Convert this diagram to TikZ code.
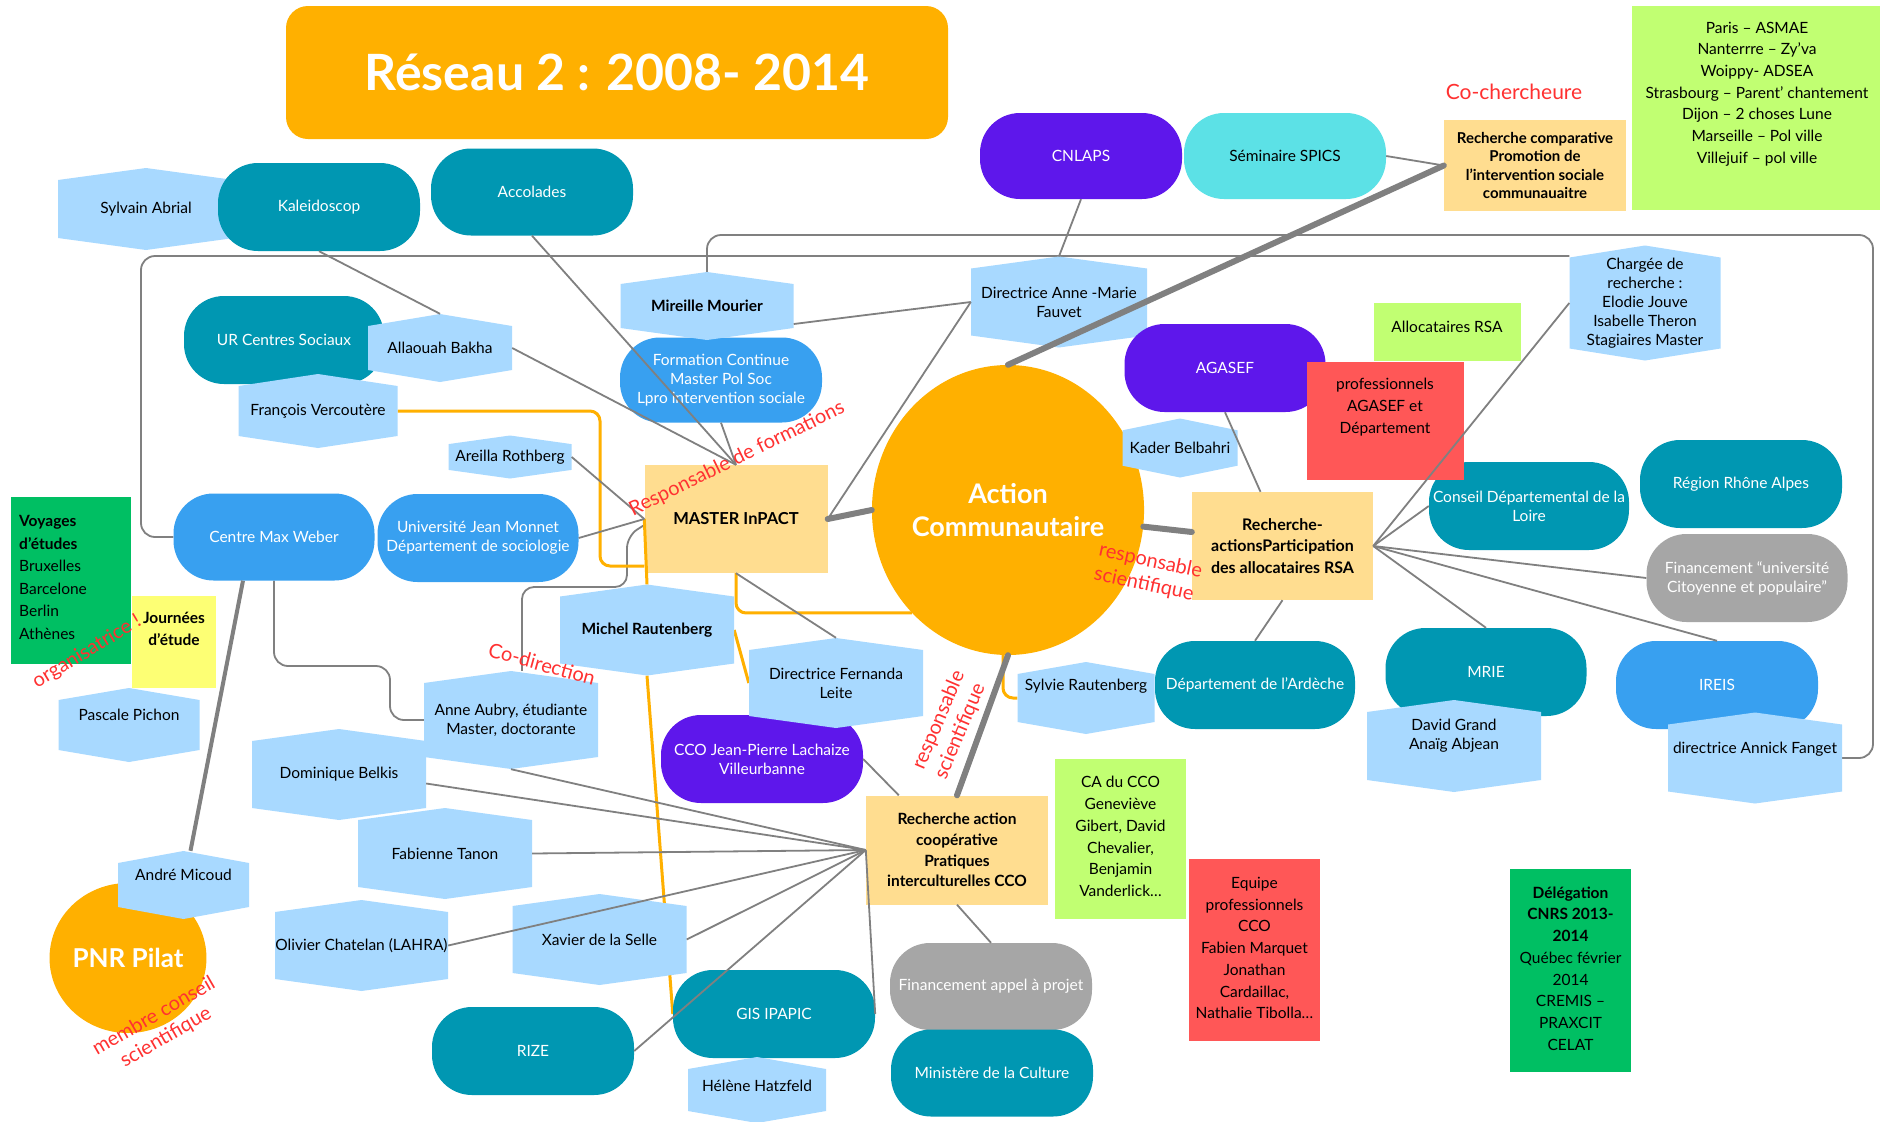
\documentclass[tikz,border=0pt]{standalone}
\usepackage{fontspec}
\setmainfont{Lato}
\usetikzlibrary{backgrounds,calc,shapes.geometric}

\definecolor{orC}{HTML}{FFB000}
\definecolor{boxC}{HTML}{FFDD90}
\definecolor{hexC}{HTML}{A8D9FF}
\definecolor{tealC}{HTML}{0097B2}
\definecolor{blueC}{HTML}{38A0F0}
\definecolor{purC}{HTML}{5E17EB}
\definecolor{cyanC}{HTML}{5CE1E6}
\definecolor{greyC}{HTML}{A6A6A6}
\definecolor{lgC}{HTML}{C1FF72}
\definecolor{redC}{HTML}{FF5757}
\definecolor{grC}{HTML}{00BF63}
\definecolor{yeC}{HTML}{FDFF74}
\definecolor{lineC}{HTML}{808080}
\definecolor{redT}{HTML}{FF3131}

\newcommand{\NF}{\fontsize{15.5}{19}\selectfont}
\newcommand{\GF}{\fontsize{15.5}{21.7}\selectfont}

\newcommand{\HexNode}[7][0]{%
  \pgfmathsetmacro{\hxl}{#3-#5/2}%
  \pgfmathsetmacro{\hxr}{#3+#5/2}%
  \pgfmathsetmacro{\hyt}{#4-#6/2}%
  \pgfmathsetmacro{\hyb}{#4+#6/2}%
  \pgfmathsetmacro{\hpk}{min(12,0.2*#6)}%
  \fill[hexC] ({\hxl},{\hyt+\hpk}) -- ({#3},{\hyt}) -- ({\hxr},{\hyt+\hpk}) -- ({\hxr},{\hyb-\hpk}) -- ({#3},{\hyb}) -- ({\hxl},{\hyb-\hpk}) -- cycle;
  \node[minimum width=#5pt, minimum height=#6pt, inner sep=0pt] (#2) at (#3,#4) {};
  \node[hextext] (#2-t) at ({#3},{#4+#1}) {#7};
}

\begin{document}
\begin{tikzpicture}[x=1pt,y=-1pt,
  stad/.style={fill=#1, rounded corners=40pt, minimum width=202pt, minimum height=87pt, text=white, align=center, inner sep=2pt, font=\NF},
  box/.style={fill=#1, minimum width=10pt, inner sep=0pt, align=center, font=\NF},
  hextext/.style={font=\NF, align=center, text=black, inner sep=1pt},
  txt/.style={font=\NF, align=center, text=black, inner sep=1pt},
  ln/.style={draw=lineC, line width=1.8pt},
  thk/.style={draw=lineC, line width=6pt, line cap=round},
  mid/.style={draw=lineC, line width=4pt},
  orl/.style={draw=orC, line width=3pt, rounded corners=10pt},
  redt/.style={text=redT, font=\fontsize{20}{24}\selectfont, align=center, inner sep=0pt}
]
\useasboundingbox (0,0) rectangle (1880,1122);

% title
\node[fill=orC, rounded corners=22pt, minimum width=662pt, minimum height=133pt, text=white, font=\fontsize{50}{60}\selectfont\bfseries] (title) at (617,72.5) {Réseau 2 : 2008- 2014};

% top right list
\node[box=lgC, minimum width=250pt, minimum height=204pt] (villes) at (1757,108) {};
\node[txt, font=\GF] (villes-t) at (1757,94) {Paris – ASMAE\\Nanterrre – Zy’va\\Woippy- ADSEA\\Strasbourg – Parent’ chantement\\Dijon – 2 choses Lune\\Marseille – Pol ville\\Villejuif – pol ville};

% upper left
\HexNode{sylv}{146}{209}{176}{82}{Sylvain Abrial}
\node[stad=tealC, minimum height=88pt] (kal) at (319,207) {Kaleidoscop};
\node[stad=tealC] (acc) at (532,192) {Accolades};
\node[stad=tealC, minimum width=200pt, minimum height=88pt] (ur) at (284,340) {UR Centres Sociaux};
\HexNode{alla}{440}{348}{144}{68}{Allaouah Bakha}
\HexNode{fra}{318}{411}{159}{74}{François Vercoutère}
\HexNode{are}{510}{457}{123}{43}{Areilla Rothberg}
\node[stad=blueC, minimum height=85pt] (form) at (721,380) {Formation Continue\\Master Pol Soc\\Lpro intervention sociale};
\HexNode{mir}{707}{306}{173}{68}{\bfseries Mireille Mourier}

% upper middle / right
\node[stad=purC, minimum height=86pt] (cnl) at (1081,156) {CNLAPS};
\node[stad=cyanC, minimum height=86pt, text=black] (spi) at (1285,156) {Séminaire SPICS};
\node[box=boxC, minimum width=182pt, minimum height=91pt, font=\fontsize{15}{18.5}\selectfont\bfseries] (rcomp) at (1535,165.5) {Recherche comparative\\Promotion de\\l’intervention sociale\\communauaitre};
\node[text=redT, font=\fontsize{21}{25}\selectfont, inner sep=0pt] (coch) at (1514,92) {Co-chercheure};
\HexNode{dam}{1059}{302}{176}{91}{Directrice Anne -Marie\\Fauvet}
\node[stad=purC, minimum width=201pt, minimum height=88pt] (aga) at (1225,368) {AGASEF};
\node[box=lgC, minimum width=147pt, minimum height=58pt] (alloc) at (1447,332) {};
\node[txt] (alloc-t) at (1447,327) {Allocataires RSA};
\node[ellipse, fill=orC, minimum width=260pt, minimum height=290pt, inner sep=0pt, text=white, align=center, font=\fontsize{27}{33}\selectfont\bfseries] (ac) at (1008,510) {Action\\Communautaire};
\HexNode{kad}{1180}{448}{115}{59}{Kader Belbahri}
\node[stad=tealC, minimum width=200pt, minimum height=88pt] (loi) at (1529,506) {Conseil Départemental de la\\Loire};
\node[box=redC, minimum width=157pt, minimum height=118pt] (prof) at (1385,421) {};
\node[txt, font=\GF] (prof-t) at (1385,407) {professionnels\\AGASEF et\\Département};
\HexNode{cha}{1645}{303}{151}{115}{Chargée de\\recherche :\\Elodie Jouve\\Isabelle Theron\\Stagiaires Master}
\node[stad=tealC, minimum height=88pt] (reg) at (1741,484) {Région Rhône Alpes};
\node[stad=greyC, minimum width=201pt, minimum height=88pt] (finu) at (1747,578) {Financement “université\\Citoyenne et populaire”};
\node[box=boxC, minimum width=181pt, minimum height=108pt, font=\fontsize{16}{21.5}\selectfont\bfseries] (rsa) at (1282.5,546) {Recherche-\\actionsParticipation\\des allocataires RSA};

% middle left
\node[box=boxC, minimum width=183pt, minimum height=108pt, font=\fontsize{16.5}{20}\selectfont\bfseries] (mas) at (736,519) {MASTER InPACT};
\node[stad=blueC, minimum width=201pt, minimum height=88pt] (univ) at (478,538) {Université Jean Monnet\\Département de sociologie};
\node[stad=blueC, minimum width=201pt, minimum height=87pt] (cmw) at (274,537) {Centre Max Weber};
\node[box=grC, minimum width=120pt, minimum height=167pt] (voy) at (71,580.5) {};
\node[txt, align=left, anchor=west, font=\fontsize{15.5}{22.6}\selectfont] (voy-t) at (18,577.5) {\textbf{Voyages}\\\textbf{d’études}\\Bruxelles\\Barcelone\\Berlin\\Athènes};
\node[box=yeC, minimum width=84pt, minimum height=92pt] (jou) at (174,642) {};
\node[txt, font=\fontsize{15.5}{21.5}\selectfont\bfseries] (jou-t) at (174,629) {Journées\\d’étude};
\HexNode[-10]{pas}{129}{725}{141}{74}{Pascale Pichon}

% middle
\HexNode{mic}{647}{630}{174}{91}{\bfseries Michel Rautenberg}
\node[stad=purC, minimum height=88pt] (cco) at (762,759) {CCO Jean-Pierre Lachaize\\Villeurbanne};
\HexNode{fer}{836}{683}{174}{90}{Directrice Fernanda\\Leite}
\HexNode{ane}{511}{720}{174}{98}{Anne Aubry, étudiante\\Master, doctorante}
\HexNode{dom}{339}{774.5}{174}{91}{Dominique Belkis}
\HexNode{fab}{445}{853.5}{174}{91}{Fabienne Tanon}

% middle right
\HexNode[-12]{syl}{1086}{698}{137}{72}{Sylvie Rautenberg}
\node[stad=tealC, minimum width=200pt, minimum height=88pt] (ard) at (1255,685) {Département de l’Ardèche};
\node[stad=tealC, minimum width=201pt, minimum height=88pt] (mrie) at (1486,672) {MRIE};
\HexNode[-10]{dav}{1454}{746}{174}{92}{David Grand\\Anaïg Abjean}
\node[stad=blueC, minimum height=88pt] (ire) at (1717,685) {IREIS};
\HexNode[-9]{ann}{1755}{758}{174}{91}{directrice Annick Fanget}

% lower left
\node[ellipse, fill=orC, minimum width=144pt, minimum height=150pt, inner sep=0pt, text=white, font=\fontsize{26}{30}\selectfont\bfseries] (pnr) at (128,958) {PNR Pilat};
\HexNode[-10]{andr}{183.5}{885}{131}{68}{André Micoud}

% lower middle
\node[box=boxC, minimum width=182pt, minimum height=109pt, font=\fontsize{15.5}{20.8}\selectfont\bfseries] (coop) at (957,850) {Recherche action\\coopérative\\Pratiques\\interculturelles CCO};
\node[box=lgC, minimum width=131pt, minimum height=160pt] (cacco) at (1120.5,839) {};
\node[txt, font=\GF] (cacco-t) at (1120.5,836.5) {CA du CCO\\Geneviève\\Gibert, David\\Chevalier,\\Benjamin\\Vanderlick…};
\node[box=redC, minimum width=131pt, minimum height=182pt] (equ) at (1254.5,950) {};
\node[txt, font=\GF] (equ-t) at (1254.5,948) {Equipe\\professionnels\\CCO\\Fabien Marquet\\Jonathan\\Cardaillac,\\Nathalie Tibolla…};
\node[box=grC, minimum width=121pt, minimum height=203pt] (del) at (1570.5,970.5) {};
\node[txt, font=\GF] (del-t) at (1570.5,968.5) {\textbf{Délégation}\\\textbf{CNRS 2013-}\\\textbf{2014}\\Québec février\\2014\\CREMIS –\\PRAXCIT\\CELAT};
\HexNode{oli}{361.5}{945.5}{173}{91}{Olivier Chatelan (LAHRA)}
\HexNode{xav}{599.5}{939.5}{174}{91}{Xavier de la Selle}
\node[stad=greyC] (fina) at (991,986.5) {Financement appel à projet};
\node[stad=tealC] (mini) at (992,1073) {Ministère de la Culture};
\node[stad=tealC, minimum height=88pt] (gis) at (774,1014) {GIS IPAPIC};
\node[stad=tealC, minimum height=88pt] (rize) at (533,1051) {RIZE};
\HexNode[-4]{hel}{757}{1090}{138}{66}{Hélène Hatzfeld}

% connectors behind nodes
\coordinate (loopA) at (1873,235);
\coordinate (loopB) at (141,256);
\coordinate (cA) at (390,666);
\coordinate (cB) at (522,587);
\coordinate (cC) at (627,587);
\coordinate (cD) at (627,536);
\coordinate (cE) at (600,566);
\begin{pgfonlayer}{background}
  \fill[white] (0,0) rectangle (1880,1122);
  \draw[ln, rounded corners=14pt] (mir.north) -- (mir.north |- loopA) -- (loopA) -- (loopA |- ann.east) -- (ann.east);
  \draw[ln, rounded corners=14pt] (cmw.west) -- (cmw.west -| loopB) -- (loopB) -- (loopB -| cha.west);
  \draw[ln, rounded corners=14pt] (cmw.south) -- (cmw.south |- cA) -- (cA) -- (cA |- ane.west) -- (ane.west);
  \draw[ln, rounded corners=12pt] ($(ane.north)+(11,0)$) -- (cB) -- (cC) -- (cD) -- ($(mas.west)+(0,6)$);
  \draw[orl] (fra.east) -- (fra.east -| cE) -- (cE) -- (cE -| mas.west);
  \draw[orl] (mas.south) |- (ac.227);
  \draw[orl] (mic.east) -- (fer.west);
  \draw[orl] (mic.south) -- (gis.west);
  \draw[orl] ($(ac.south)+(-5,0)$) |- (syl.west);
\end{pgfonlayer}

% connectors on top
\draw[orl] (mic.north) -- (mas.west);
\draw[ln] (kal.south) -- (alla.north);
\draw[ln] (acc.south) -- (mas.north);
\draw[ln] (alla.east) -- (mas.north);
\draw[ln] (form.south) -- (mas.north);
\draw[ln] (are.east) -- (mas.west);
\draw[ln] (univ.east) -- (mas.west);
\draw[ln] ($(mir.east)+(0,18)$) -- (dam.west);
\draw[ln] (dam.north) -- (cnl.south);
\draw[ln] (dam.west) -- (mas.east);
\draw[ln] (spi.east) -- (rcomp.west);
\draw[ln] (aga.south) -- ($(rsa.north)+(-22,0)$);
\draw[ln] (rsa.east) -- (cha.west);
\draw[ln] (rsa.east) -- (loi.west);
\draw[ln] (rsa.east) -- (finu.west);
\draw[ln] (rsa.east) -- (mrie.north);
\draw[ln] (rsa.east) -- (ire.north);
\draw[ln] (rsa.south) -- (ard.north);
\draw[ln] (fina.north) -- (coop.south);
\draw[ln] (cco.east) -- ($(coop.north west)+(33,0)$);
\draw[ln] (mas.south) -- (fer.north);
\draw[ln] (coop.west) -- (ane.south);
\draw[ln] (coop.west) -- ($(dom.east)+(0,9)$);
\draw[ln] (coop.west) -- (fab.east);
\draw[ln] (coop.west) -- (oli.east);
\draw[ln] (coop.west) -- (xav.east);
\draw[ln] (coop.west) -- (rize.east);
\draw[ln] (coop.west) -- (gis.east);
\draw[thk] (mas.east) -- (ac.west);
\draw[thk] (ac.north) -- (rcomp.west);
\draw[thk] (ac.353) -- ($(rsa.west)+(0,-14)$);
\draw[thk] (ac.south) -- (coop.north);
\draw[mid] ($(cmw.south)+(-31,0)$) -- ($(andr.north)+(7,0)$);

% red annotations
\node[redt, rotate=26] (lab-form) at (737,459) {Responsable de formations};
\node[redt, rotate=-15.5] (lab-codir) at (542,664) {Co-direction};
\node[redt, rotate=31] (lab-orga) at (87,652) {organisatrice !};
\node[redt, rotate=30] (lab-pnr) at (160,1027) {membre conseil\\scientifique};
\node[redt, rotate=-12, align=left] (lab-rsa) at (1148,573) {responsable\\scientifique};
\node[redt, rotate=67, align=left] (lab-coop) at (950,725) {responsable\\scientifique};
\end{tikzpicture}
\end{document}
